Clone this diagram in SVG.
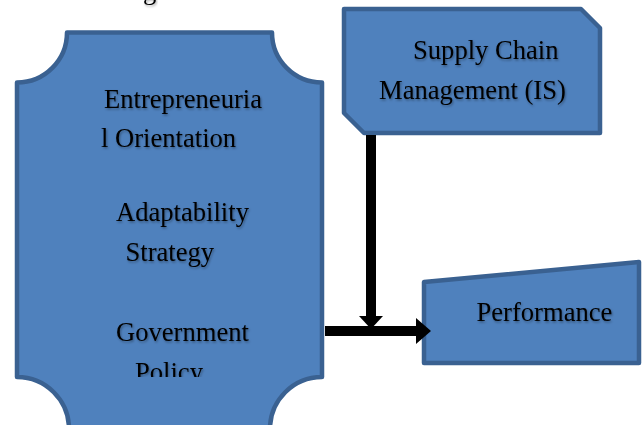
<svg xmlns="http://www.w3.org/2000/svg" width="644" height="425" viewBox="0 0 644 425">
<style>
.shape{fill:#4F81BD;stroke:#3A6191;stroke-width:4.5;stroke-linejoin:round}
.t{font-family:"Liberation Serif","Times New Roman",serif;font-size:26.6px;fill:#000;filter:url(#sh)}
.conn{stroke:#000;stroke-width:10;fill:none}
.head{fill:#000}
</style>
<defs>
<filter id="sh" x="-10%" y="-30%" width="120%" height="160%">
<feDropShadow dx="1" dy="1.5" stdDeviation="1" flood-color="#000" flood-opacity="0.35"/>
</filter>
<clipPath id="clipL"><rect x="0" y="0" width="644" height="377"/></clipPath>
</defs>
<rect width="644" height="425" fill="#fff"/>
<text class="t" x="143" y="-1">g</text>
<g id="node-left">
<path class="shape" d="M67,32.5 L272,32.5 A50,50 0 0 0 322,82.5 L322,377 A52,52 0 0 0 270,429 L69,429 A52,52 0 0 0 17,377 L17,82.5 A50,50 0 0 0 67,32.5 Z"/>
<g clip-path="url(#clipL)">
<text class="t" x="104" y="108">Entrepreneuria</text>
<text class="t" x="101" y="147">l Orientation</text>
<text class="t" x="116" y="221">Adaptability</text>
<text class="t" x="125.5" y="260.5">Strategy</text>
<text class="t" x="116" y="341">Government</text>
<text class="t" x="135" y="380.5">Policy</text>
</g>
</g>
<g id="node-scm">
<path class="shape" d="M344,9 L581,9 L600,28 L600,133 L364,133 L344,113 Z"/>
<text class="t" x="413" y="59">Supply Chain</text>
<text class="t" x="379" y="99">Management (IS)</text>
</g>
<g id="node-performance">
<path class="shape" d="M424,282 L639,262 L639,363 L424,363 Z"/>
<text class="t" x="476.5" y="320.5">Performance</text>
</g>
<g id="connectors">
<line class="conn" x1="325" y1="331" x2="418" y2="331"/>
<polygon class="head" points="416,318 431,331 416,344"/>
<line class="conn" x1="371" y1="135" x2="371" y2="318"/>
<polygon class="head" points="359,316 383,316 371,329"/>
</g>
</svg>
